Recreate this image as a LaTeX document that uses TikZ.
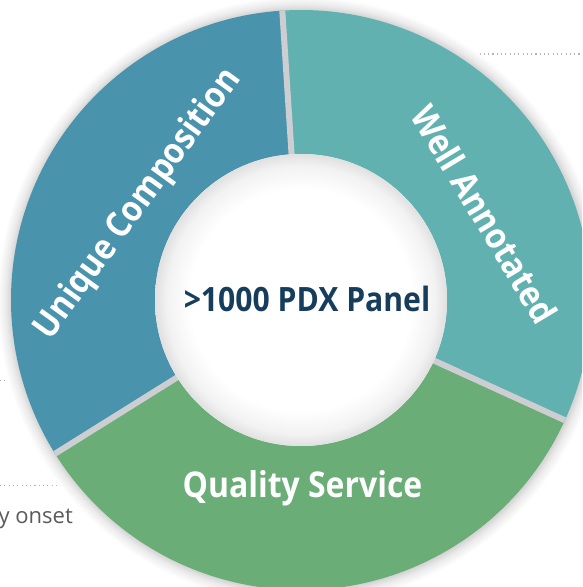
\documentclass[tikz,border=0pt]{standalone}
\usepackage{fontspec}
\setmainfont{Open Sans}
\newfontfamily\labelfont[FakeStretch=0.9]{Open Sans}
\usetikzlibrary{calc}
\definecolor{cblue}{HTML}{4993AD}
\definecolor{cteal}{HTML}{62B1B1}
\definecolor{cgreen}{HTML}{6AAD77}
\definecolor{cnavy}{HTML}{173D5C}
\definecolor{cgap}{HTML}{CDCED2}
\definecolor{ctext}{HTML}{5A5A5A}
\definecolor{cdot}{HTML}{B4B4B4}
\pgfdeclareradialshading{outershadow}{\pgfpoint{0bp}{0bp}}{color(0bp)=(black!17); color(23.85bp)=(black!17); color(24.3bp)=(black!8); color(25bp)=(white); color(50bp)=(white)}
\pgfdeclareradialshading{holeshadow}{\pgfpoint{0bp}{0bp}}{color(0bp)=(white); color(19bp)=(white); color(23bp)=(black!5); color(25bp)=(black!12); color(50bp)=(black!12)}
\begin{document}
\begin{tikzpicture}[x=1pt,y=1pt,
  dotline/.style={cdot, line width=1.1pt, dash pattern=on 1.1pt off 3.2pt},
  seglabel/.style={text=white, inner sep=0pt, font=\labelfont\bfseries\fontsize{35.5}{40}\selectfont},
  centerlabel/.style={text=cnavy, inner sep=0pt, font=\labelfont\bfseries\fontsize{33.5}{38}\selectfont},
  sidetext/.style={text=ctext, inner sep=0pt, font=\fontsize{22}{26}\selectfont},
  gapline/.style={cgap, line width=6pt}]
\useasboundingbox (0,0) rectangle (582,587);
\clip (0,0) rectangle (582,587);
\fill[white] (0,0) rectangle (582,587);
% background dotted lines and side text
\coordinate (d1a) at (458,533);
\coordinate (d1b) at (582,533);
\coordinate (d2a) at (0,206.3);
\coordinate (d2b) at (24,206.3);
\coordinate (d3a) at (0,101.3);
\coordinate (d3b) at (84,101.3);
\draw[dotline] (d1a) -- (d1b);
\draw[dotline] (d2a) -- (d2b);
\draw[dotline] (d3a) -- (d3b);
\node[sidetext, anchor=base east] (onset) at (73,63) {y onset};
% donut
\coordinate (C) at (301,287);
\shade[shading=outershadow] (C) circle (304);
\fill[cblue] (C) -- ++(93.7:290) arc[start angle=93.7, end angle=212, radius=290] -- cycle;
\fill[cgreen] (C) -- ++(212:290) arc[start angle=212, end angle=335.5, radius=290] -- cycle;
\fill[cteal] (C) -- ++(-24.5:290) arc[start angle=-24.5, end angle=93.7, radius=290] -- cycle;
\draw[gapline] (C) -- ++(93.7:290);
\draw[gapline] (C) -- ++(212:290);
\draw[gapline] (C) -- ++(-24.5:290);
\fill[white] (C) circle (146);
\shade[shading=holeshadow] (C) circle (146);
% labels
\node[centerlabel, anchor=base] (center) at (307,275.2) {>1000 PDX Panel};
\node[seglabel, anchor=base, rotate=54] (uc) at (146,377) {Unique Composition};
\node[seglabel, anchor=base, rotate=-59] (wa) at (473,366) {Well Annotated};
\node[seglabel, anchor=base] (qs) at (302.5,89.6) {Quality Service};
\end{tikzpicture}
\end{document}
